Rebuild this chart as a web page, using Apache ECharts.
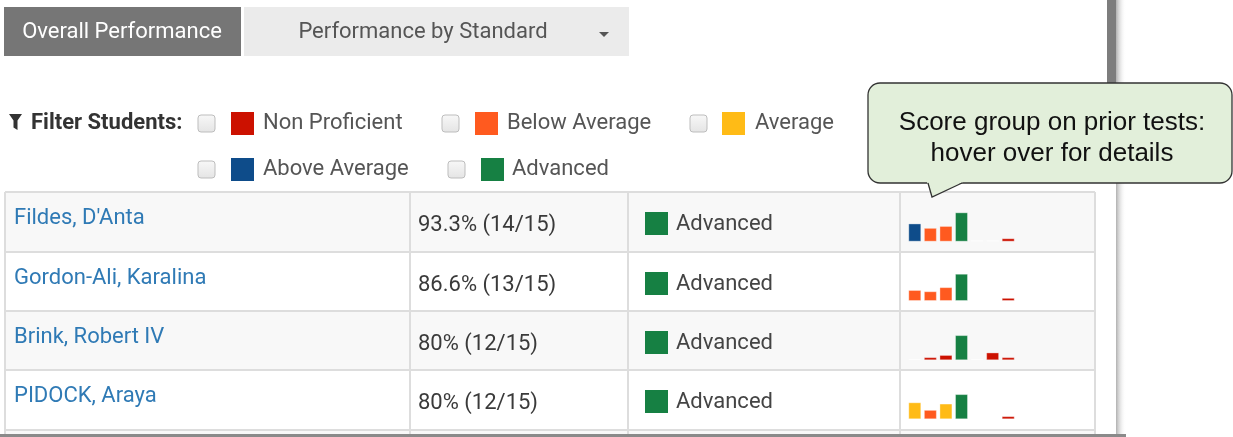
<!DOCTYPE html>
<html><head><meta charset="utf-8">
<script src="https://cdn.jsdelivr.net/npm/echarts@6/dist/echarts.min.js"></script>
<style>html,body{margin:0;padding:0;background:#fff}#c{width:1233px;height:437px}</style>
</head><body><div id="c"></div>
<script>
// ---------- data ----------
const tabs = ['Overall Performance', 'Performance by Standard'];
const filterLabel = 'Filter Students:';
const groupNames = ['Non Proficient', 'Below Average', 'Average', 'Above Average', 'Advanced'];
const groupColors = { NP: '#cc1100', BA: '#ff5a1f', AV: '#ffbb16', AA: '#0e4c8a', ADV: '#168043', none: '#ffffff' };
const students = ["Fildes, D'Anta", 'Gordon-Ali, Karalina', 'Brink, Robert IV', 'PIDOCK, Araya'];
const scoreTexts = ['93.3% (14/15)', '86.6% (13/15)', '80% (12/15)', '80% (12/15)'];
const levels = ['Advanced', 'Advanced', 'Advanced', 'Advanced'];
const priorTests = ['T1', 'T2', 'T3', 'T4', 'T5', 'T6', 'T7'];
const row1Values = [58, 44, 50, 93.3, 5, 5, 11];
const row1Groups = ['AA', 'BA', 'BA', 'ADV', 'none', 'none', 'NP'];
const row2Values = [35, 31, 44, 86.6, 5, 5, 10];
const row2Groups = ['BA', 'BA', 'BA', 'ADV', 'none', 'none', 'NP'];
const row3Values = [5, 10, 17, 80, 5, 25, 10];
const row3Groups = ['none', 'NP', 'NP', 'ADV', 'none', 'NP', 'NP'];
const row4Values = [54, 30, 50, 80, 5, 5, 10];
const row4Groups = ['AV', 'BA', 'AV', 'ADV', 'none', 'none', 'NP'];
const calloutLines = ['Score group on prior tests:', 'hover over for details'];

// ---------- layout ----------
const UI = 'Roboto, "Noto Sans", sans-serif';
const FS = '22px ';
const rowsTop = [192, 252, 311, 370];
const rowH = 59.3;
const colX = [5, 410, 628, 900, 1095];
const rowValues = [row1Values, row2Values, row3Values, row4Values];
const rowGroups = [row1Groups, row2Groups, row3Groups, row4Groups];

const g = [];
// right scrollbar + shadow
g.push({ type: 'rect', z: 1, shape: { x: 1107, y: 0, width: 9, height: 130 }, style: { fill: '#7d7d7d' } });
g.push({ type: 'rect', z: 1, shape: { x: 1116, y: 0, width: 10, height: 437 },
  style: { fill: { type: 'linear', x: 0, y: 0, x2: 1, y2: 0, colorStops: [{ offset: 0, color: '#b0b0b0' }, { offset: 1, color: 'rgba(255,255,255,0)' }] } } });
// tabs
g.push({ type: 'rect', z: 1, shape: { x: 4, y: 7, width: 237, height: 49 }, style: { fill: '#767676' } });
g.push({ type: 'text', z: 2, style: { x: 122, y: 32, text: tabs[0], fill: '#ffffff', font: FS + UI, align: 'center', verticalAlign: 'middle' } });
g.push({ type: 'rect', z: 1, shape: { x: 244, y: 7, width: 385, height: 49 }, style: { fill: '#ebebeb' } });
g.push({ type: 'text', z: 2, style: { x: 423, y: 32, text: tabs[1], fill: '#555555', font: FS + UI, align: 'center', verticalAlign: 'middle' } });
g.push({ type: 'polygon', z: 2, shape: { points: [[599, 32], [609, 32], [604, 37]] }, style: { fill: '#555555' } });
// filter
g.push({ type: 'polygon', z: 2, shape: { points: [[9, 114], [22, 114], [17.5, 120.5], [17.5, 130], [13.5, 127.5], [13.5, 120.5]] }, style: { fill: '#333333' } });
g.push({ type: 'text', z: 2, style: { x: 31, y: 123, text: filterLabel, fill: '#333333', font: 'bold ' + FS + UI, verticalAlign: 'middle' } });
const legendPos = [
  { cx: 198, sx: 231, tx: 263, y: 123, key: 'NP' },
  { cx: 442, sx: 475, tx: 507, y: 123, key: 'BA' },
  { cx: 690, sx: 722, tx: 755, y: 123, key: 'AV' },
  { cx: 198, sx: 231, tx: 263, y: 169, key: 'AA' },
  { cx: 448, sx: 481, tx: 512, y: 169, key: 'ADV' }
];
legendPos.forEach((p, i) => {
  g.push({ type: 'rect', z: 2, shape: { x: p.cx, y: p.y - 8, width: 17, height: 17, r: 3 },
    style: { fill: { type: 'linear', x: 0, y: 0, x2: 0, y2: 1, colorStops: [{ offset: 0, color: '#f8f8f8' }, { offset: 1, color: '#e4e4e4' }] }, stroke: '#bdbdbd', lineWidth: 1 } });
  g.push({ type: 'rect', z: 2, shape: { x: p.sx, y: p.y - 11, width: 23, height: 23 }, style: { fill: groupColors[p.key] } });
  g.push({ type: 'text', z: 2, style: { x: p.tx, y: p.y, text: groupNames[i], fill: '#555555', font: FS + UI, verticalAlign: 'middle' } });
});
// table
rowsTop.forEach((t, i) => {
  g.push({ type: 'rect', z: 0, shape: { x: colX[0], y: t, width: colX[4] - colX[0], height: rowH }, style: { fill: i % 2 === 0 ? '#f8f8f8' : '#ffffff' } });
});
g.push({ type: 'rect', z: 0, shape: { x: colX[0], y: 430, width: colX[4] - colX[0], height: 5 }, style: { fill: '#f8f8f8' } });
[192, 252, 311, 370, 430].forEach(y => {
  g.push({ type: 'line', z: 1, shape: { x1: colX[0], y1: y, x2: colX[4], y2: y }, style: { stroke: '#dddddd', lineWidth: 2 } });
});
colX.forEach(x => {
  g.push({ type: 'line', z: 1, shape: { x1: x, y1: 192, x2: x, y2: 437 }, style: { stroke: '#dddddd', lineWidth: 2 } });
});
students.forEach((s, i) => {
  const t = rowsTop[i];
  g.push({ type: 'text', z: 2, style: { x: 14, y: t + 26, text: s, fill: '#2f7ab5', font: FS + UI, verticalAlign: 'middle' } });
  g.push({ type: 'text', z: 2, style: { x: 418, y: t + 33, text: scoreTexts[i], fill: '#3a3a3a', font: FS + UI, verticalAlign: 'middle' } });
  g.push({ type: 'rect', z: 2, shape: { x: 645, y: t + 20, width: 23, height: 23 }, style: { fill: groupColors.ADV } });
  g.push({ type: 'text', z: 2, style: { x: 676, y: t + 32, text: levels[i], fill: '#444444', font: FS + UI, verticalAlign: 'middle' } });
});
// bottom edge
g.push({ type: 'rect', z: 1, shape: { x: 0, y: 434, width: 1126, height: 3 }, style: { fill: '#8a8a8a' } });
// callout
g.push({ type: 'rect', z: 50, shape: { x: 868, y: 83, width: 364, height: 100, r: 12 }, style: { fill: '#e2efda', stroke: '#333333', lineWidth: 1.3 } });
g.push({ type: 'polygon', z: 51, shape: { points: [[927, 182], [963, 182], [932, 197]] }, style: { fill: '#e2efda' } });
g.push({ type: 'polyline', z: 52, shape: { points: [[928, 183], [932, 197], [962, 183]] }, style: { stroke: '#333333', lineWidth: 1.3, fill: null } });
g.push({ type: 'text', z: 53, style: { x: 1052, y: 123, text: calloutLines[0], fill: '#111111', font: '26px "Liberation Sans", Arial, sans-serif', align: 'center', verticalAlign: 'middle' } });
g.push({ type: 'text', z: 53, style: { x: 1052, y: 154, text: calloutLines[1], fill: '#111111', font: '26px "Liberation Sans", Arial, sans-serif', align: 'center', verticalAlign: 'middle' } });

// sparklines
const grids = [], xAxes = [], yAxes = [], series = [];
const baselines = [241.7, 301, 360.3, 419.3];
baselines.forEach((b, i) => {
  grids.push({ left: 907, width: 109, top: b - 31.5, height: 31.5 });
  xAxes.push({ type: 'category', gridIndex: i, data: priorTests, show: false });
  yAxes.push({ type: 'value', gridIndex: i, min: 0, max: 100, show: false });
  series.push({
    type: 'bar', xAxisIndex: i, yAxisIndex: i, barWidth: 13, silent: true, z: 3,
    data: rowValues[i].map((v, k) => ({ value: v, itemStyle: { color: groupColors[rowGroups[i][k]], borderColor: 'rgba(255,255,255,0.35)', borderWidth: 1 } }))
  });
});

const chart = echarts.init(document.getElementById('c'), null, { renderer: 'canvas' });
chart.setOption({ animation: false, grid: grids, xAxis: xAxes, yAxis: yAxes, series: series, graphic: { elements: g } });
</script></body></html>
